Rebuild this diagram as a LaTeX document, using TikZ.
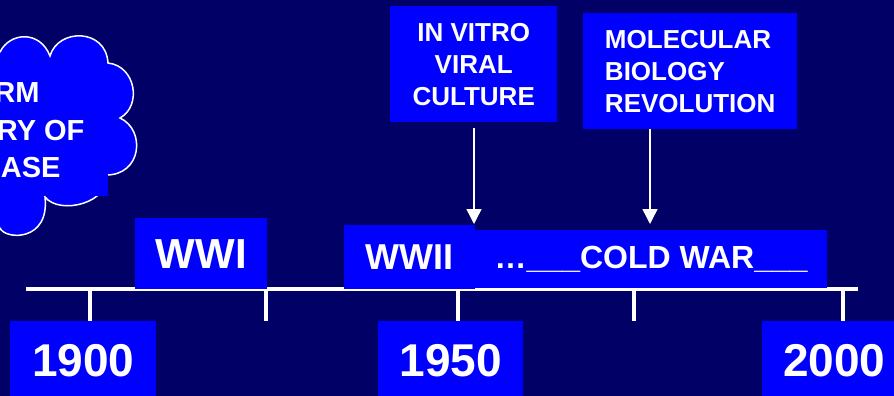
\documentclass[tikz,border=0pt]{standalone}
\usepackage{fontspec}
\setmainfont{Liberation Sans}
\usetikzlibrary{arrows.meta}
\definecolor{navy}{RGB}{0,0,102}
\definecolor{vblue}{RGB}{0,0,255}
\tikzset{
  box/.style={fill=vblue, text=white, inner sep=0pt, font=\bfseries},
  arr/.style={white, line width=1.5pt, -{Triangle[width=15pt,length=15pt]}},
  tick/.style={white, line width=4pt},
}
\begin{document}
\begin{tikzpicture}[x=1pt,y=-1pt]
\useasboundingbox (0,0) rectangle (894,396);
\clip (0,0) rectangle (894,396);
\fill[navy] (0,0) rectangle (894,396);
% cloud
\path[fill=vblue, draw=white, line width=1.5pt]
  (-5,52) -- (0,52) .. controls (10,32) and (40,30) .. (50,56)
  .. controls (58,28) and (106,28) .. (108,63)
  .. controls (136,66) and (142,106) .. (120,118)
  .. controls (146,130) and (142,176) .. (105,175)
  .. controls (112,202) and (60,216) .. (45,197)
  .. controls (50,242) and (5,240) .. (0,228) -- (-5,228) -- cycle;
\fill[vblue] (-5,66) rectangle (108,196);
\node[anchor=base east, text=white, font=\bfseries\fontsize{29}{35}\selectfont] (c1) at (43,102) {RM};
\node[anchor=base east, text=white, font=\bfseries\fontsize{29}{35}\selectfont] (c2) at (88,140) {RY OF};
\node[anchor=base east, text=white, font=\bfseries\fontsize{29}{35}\selectfont] (c3) at (64,177) {ASE};
% timeline
\coordinate (L) at (26,289);
\coordinate (R) at (858,289);
\draw[white, line width=4pt] (L) -- (R);
\foreach \x in {90,266,458,634,843} \draw[white, line width=4pt] (\x,289) -- (\x,321);
% period boxes
\node[box, anchor=north west, minimum width=132pt, minimum height=71pt, font=\bfseries\fontsize{42}{50}\selectfont] (wwi) at (135,218) {WWI};
\node[box, anchor=north west, minimum width=352pt, minimum height=58pt, font=\bfseries\fontsize{32}{38}\selectfont] (cold) at (475,230) {…\_\_\_COLD WAR\_\_\_};
\node[box, anchor=north west, minimum width=131pt, minimum height=64pt, font=\bfseries\fontsize{36}{42}\selectfont] (wwii) at (344,225) {WWII};
% year boxes
\node[box, anchor=north west, minimum width=146pt, minimum height=79pt, font=\bfseries\fontsize{46}{54}\selectfont] (y1900) at (10,321) {1900};
\node[box, anchor=north west, minimum width=145pt, minimum height=79pt, font=\bfseries\fontsize{46}{54}\selectfont] (y1950) at (378,321) {1950};
\node[box, anchor=north west, minimum width=144pt, minimum height=79pt, font=\bfseries\fontsize{46}{54}\selectfont] (y2000) at (762,321) {2000};
% event boxes
\node[box, anchor=north west, minimum width=167pt, minimum height=116pt, align=center, font=\bfseries\fontsize{26}{32}\selectfont] (vitro) at (390,6) {IN VITRO\\VIRAL\\CULTURE};
\node[box, anchor=north west, minimum width=214pt, minimum height=116pt, align=left, font=\bfseries\fontsize{26}{32}\selectfont] (molec) at (583,13) {MOLECULAR\\BIOLOGY\\REVOLUTION};
% arrows
\coordinate (t1) at (474,224);
\coordinate (t2) at (650,224);
\draw[arr] ([yshift=-6pt]vitro.south -| t1) -- (t1);
\draw[arr] (molec.south -| t2) -- (t2);
\end{tikzpicture}
\end{document}
